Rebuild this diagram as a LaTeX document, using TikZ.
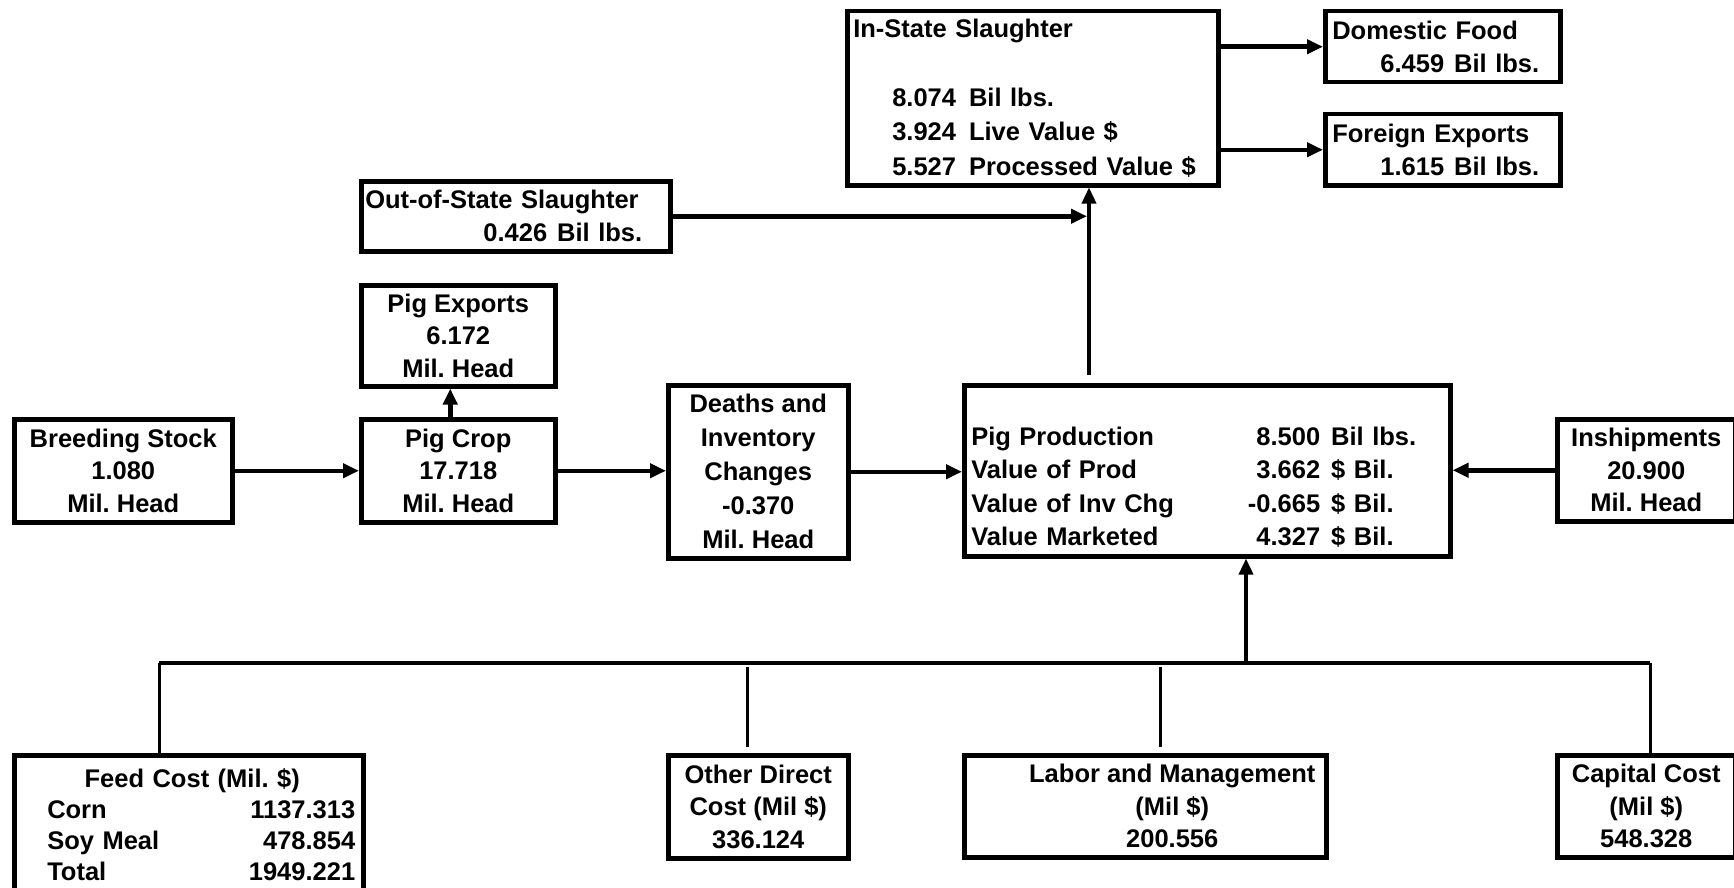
\documentclass[tikz,border=0pt]{standalone}
\usepackage{fontspec}
\setmainfont{Liberation Sans}
\usetikzlibrary{arrows.meta}
\frenchspacing
\tikzset{
    box/.style={draw, line width=4.5pt, inner sep=0pt, anchor=north west, align=center,
        font=\fontsize{25.5}{32.5}\selectfont\bfseries},
    arr/.style={line width=4.5pt, -{Triangle[length=16pt,width=14pt]}},
    bus/.style={line width=3.5pt},
    drop/.style={line width=3pt}
}

\begin{document}
\begin{tikzpicture}[x=1pt, y=-1pt]
        \useasboundingbox (0,0) rectangle (1734,888);
        \clip (0,0) rectangle (1734,888);
        \node[box, minimum width=218pt, minimum height=103pt] (breed) at (12,417) {Breeding Stock\\1.080\\Mil. Head};
        \node[box, minimum width=194pt, minimum height=103pt] (crop) at (359,417) {Pig Crop\\17.718\\Mil. Head};
        \node[box, minimum width=194pt, minimum height=101pt] (pexp) at (359,283) {Pig Exports\\6.172\\Mil. Head};
        \node[box, text width=309pt, minimum height=70pt, align=left, font=\fontsize{25.5}{33}\selectfont\bfseries] (oos) at (359,179)
            {\hspace*{4pt}Out-of-State Slaughter\\\hspace*{\fill}0.426\hspace{10pt}Bil lbs.\hspace{28pt}\null};
        \node[box, minimum width=180pt, minimum height=173pt, font=\fontsize{25.5}{34}\selectfont\bfseries] (deaths) at (666,383)
            {Deaths and\\Inventory\\Changes\\-0.370\\Mil. Head};
        \node[box, text width=486pt, minimum height=171pt, align=left, font=\fontsize{25.5}{33.5}\selectfont\bfseries] (prod) at (962,383)
            {\vphantom{P}\\
            \hspace*{7pt}\makebox[270pt][l]{Pig Production}\makebox[79pt][r]{8.500}\hspace{11pt}Bil lbs.\\
            \hspace*{7pt}\makebox[270pt][l]{Value of Prod}\makebox[79pt][r]{3.662}\hspace{11pt}\$ Bil.\\
            \hspace*{7pt}\makebox[270pt][l]{Value of Inv Chg}\makebox[79pt][r]{-0.665}\hspace{11pt}\$ Bil.\\
            \hspace*{7pt}\makebox[270pt][l]{Value Marketed}\makebox[79pt][r]{4.327}\hspace{11pt}\$ Bil.};
        \node[box, minimum width=178pt, minimum height=102pt] (insh) at (1555,417) {Inshipments\\20.900\\Mil. Head};
        \node[box, text width=371pt, minimum height=174pt, align=left, font=\fontsize{25.5}{34.5}\selectfont\bfseries] (instate) at (845,9)
            {\hspace*{6pt}In-State Slaughter\\[34pt]
            \hspace*{45pt}8.074\hspace{13pt}Bil lbs.\\
            \hspace*{45pt}3.924\hspace{13pt}Live Value \$\\
            \hspace*{45pt}5.527\hspace{13pt}Processed Value \$};
        \node[box, text width=235pt, minimum height=71pt, align=left, font=\fontsize{25.5}{33}\selectfont\bfseries] (dom) at (1323,9)
            {\hspace*{7pt}Domestic Food\\\hspace*{\fill}6.459\hspace{10pt}Bil lbs.\hspace{21pt}\null};
        \node[box, text width=235pt, minimum height=71pt, align=left, font=\fontsize{25.5}{33}\selectfont\bfseries] (forx) at (1323,112)
            {\hspace*{7pt}Foreign Exports\\\hspace*{\fill}1.615\hspace{10pt}Bil lbs.\hspace{21pt}\null};
        \node[box, text width=349pt, inner ysep=13pt, text depth=110pt, align=left, font=\fontsize{25.5}{31}\selectfont\bfseries] (feed) at (12,753)
            {\hspace*{\fill}\hspace*{7pt}Feed Cost (Mil. \$)\hspace{\fill}\null\\
            \hspace*{33pt}Corn\hspace{\fill}1137.313\hspace{8pt}\null\\
            \hspace*{33pt}Soy Meal\hspace{\fill}478.854\hspace{8pt}\null\\
            \hspace*{33pt}Total\hspace{\fill}1949.221\hspace{8pt}\null};
        \node[box, minimum width=180pt, minimum height=103pt] (other) at (666,753) {Other Direct\\Cost (Mil \$)\\336.124};
        \node[box, minimum width=362pt, minimum height=102pt] (labor) at (962,753)
            {\hspace*{54pt}Labor and Management\\\hspace*{54pt}(Mil \$)\\\hspace*{54pt}200.556};
        \node[box, minimum width=178pt, minimum height=102pt] (capital) at (1555,753) {Capital Cost\\(Mil \$)\\548.328};
        \coordinate (slfoot) at (1089,375);
        \coordinate (busL) at (159,663);
        \coordinate (busJ) at (1246,663);
        \coordinate (busR) at (1650,663);
        \coordinate (dother) at (747,667);
        \coordinate (dlabor) at (1160,667);
        \draw[arr] (breed.east) -- (breed.east -| crop.west);
        \draw[arr] ([xshift=-8pt]crop.north) -- ([xshift=-8pt]pexp.south);
        \draw[arr] (crop.east) -- (crop.east -| deaths.west);
        \draw[arr] (deaths.east) -- (deaths.east -| prod.west);
        \draw[arr] (insh.west) -- (insh.west -| prod.east);
        \draw[arr, line width=3.5pt] (slfoot) -- (slfoot |- instate.south);
        \draw[arr] (oos.east) -- ([xshift=-2pt]oos.east -| slfoot);
        \draw[arr] (instate.east |- dom.west) -- (dom.west);
        \draw[arr] (instate.east |- forx.west) -- (forx.west);
        \draw[bus] (busL) -- (busR);
        \draw[arr, line width=3.5pt] (busJ) -- (busJ |- prod.south);
        \draw[drop] (busL) -- (busL |- feed.north);
        \draw[drop, shorten >=6pt] (dother) -- (dother |- other.north);
        \draw[drop, shorten >=6pt] (dlabor) -- (dlabor |- labor.north);
        \draw[drop] (busR) -- (busR |- capital.north);
    \end{tikzpicture}
\end{document}
